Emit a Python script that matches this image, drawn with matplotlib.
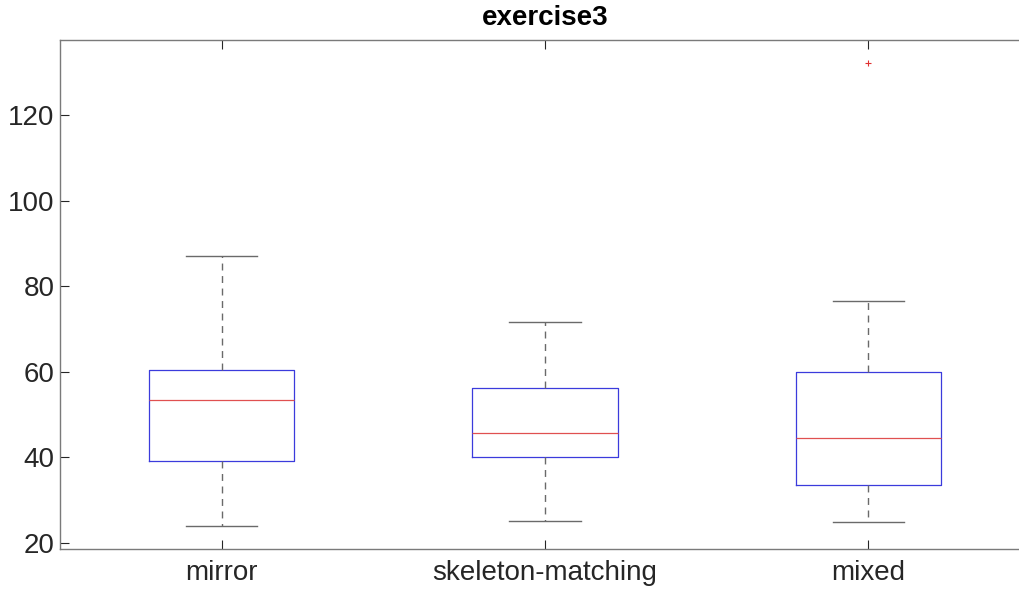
import matplotlib.pyplot as plt

# 读图得到的箱线图统计值
categories = ['mirror', 'skeleton-matching', 'mixed']
whislo = [24.0, 25.1, 24.8]
q1 = [39.2, 40.2, 33.5]
med = [53.4, 45.8, 44.6]
q3 = [60.4, 56.2, 59.9]
whishi = [87.1, 71.6, 76.6]
fliers = [[], [], [132.2]]
yticks = [20, 40, 60, 80, 100, 120]

plt.rcParams['font.family'] = ['Liberation Sans', 'DejaVu Sans']

stats = []
for i, name in enumerate(categories):
    stats.append(dict(label=name, whislo=whislo[i], q1=q1[i], med=med[i],
                      q3=q3[i], whishi=whishi[i], fliers=fliers[i]))

fig = plt.figure(figsize=(10.19, 5.92), dpi=100)
ax = fig.add_axes([60 / 1019, 1 - 549 / 592, 970 / 1019, 509 / 592])

ax.bxp(stats, positions=[1, 2, 3], widths=0.45, capwidths=0.22,
       boxprops=dict(color='#3b3bdc', linewidth=0.9),
       medianprops=dict(color='#e05050', linewidth=0.9),
       whiskerprops=dict(color='#6a6a6a', linewidth=1.0, linestyle=(0, (5, 4))),
       capprops=dict(color='#6a6a6a', linewidth=1.0),
       flierprops=dict(marker='+', markeredgecolor='#e03030', markersize=5,
                       markeredgewidth=0.8, linestyle='none'))

ax.set_xlim(0.5, 3.5)
ax.set_ylim(18.6, 137.5)
ax.set_yticks(yticks)
ax.set_xticks([1, 2, 3])
ax.set_xticklabels(categories)
ax.tick_params(direction='in', length=6.5, width=0.8, colors='#262626',
               labelsize=20, top=True, right=False, pad=4)
ax.tick_params(axis='x', pad=8)
for s in ax.spines.values():
    s.set_color('#7a7a7a')
    s.set_linewidth(1.0)
ax.spines['right'].set_visible(False)

ax.set_title('exercise3', fontsize=20, fontweight='bold', pad=11)

fig.savefig('out.png', dpi=100)
